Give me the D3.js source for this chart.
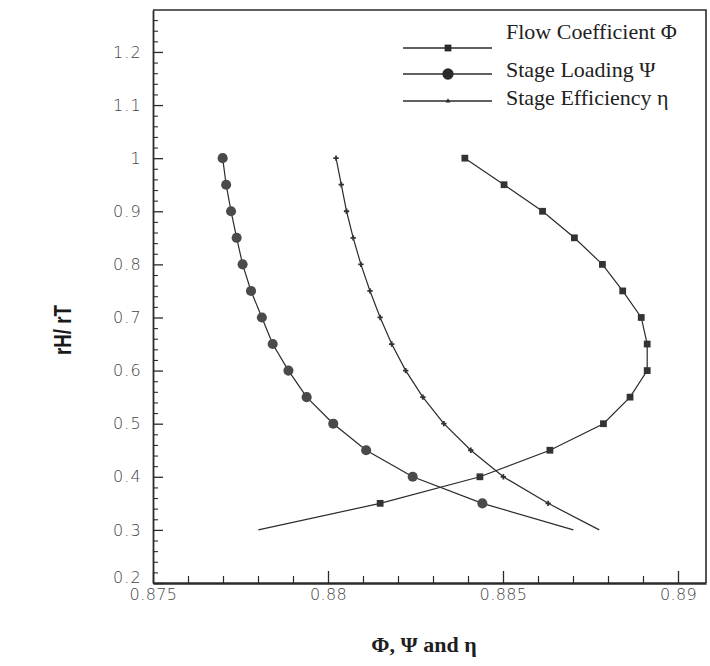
<!DOCTYPE html>
<html>
<head>
<meta charset="utf-8">
<script src="https://cdn.jsdelivr.net/npm/d3@7"></script>
<style>
  html, body { margin: 0; padding: 0; background: #ffffff; }
  svg { display: block; }
</style>
</head>
<body>
<svg id="chart" width="710" height="666"></svg>
<script>
// Hub-to-tip radius ratio at each spanwise station
const rHrT = [1.0, 0.95, 0.9, 0.85, 0.8, 0.75, 0.7, 0.65, 0.6, 0.55, 0.5, 0.45, 0.4, 0.35, 0.3];

// Flow coefficient Φ
const flowCoefficient = [0.88391, 0.88503, 0.88613, 0.88704, 0.88784, 0.88842, 0.88895, 0.88912,
                         0.88912, 0.88863, 0.88787, 0.88634, 0.88434, 0.88149, 0.87801];
// Stage loading Ψ
const stageLoading = [0.87699, 0.87709, 0.87723, 0.87739, 0.87756, 0.87780, 0.87811, 0.87842,
                      0.87887, 0.87939, 0.88015, 0.88109, 0.88242, 0.88441, 0.88701];
// Stage efficiency η
const stageEfficiency = [0.88023, 0.88038, 0.88053, 0.88072, 0.88094, 0.88120, 0.88149, 0.88182,
                         0.88222, 0.88271, 0.88331, 0.88408, 0.88501, 0.88629, 0.88775];

const seriesNames = ["Flow Coefficient \u03A6", "Stage Loading \u03A8", "Stage Efficiency \u03B7"];
const xTickLabels = ["0.875", "0.88", "0.885", "0.89"];
const yTickLabels = ["0.2", "0.3", "0.4", "0.5", "0.6", "0.7", "0.8", "0.9", "1", "1.1", "1.2"];
const xTitle = "\u03A6, \u03A8 and \u03B7";
const yTitle = "rH/ rT";

const svg = d3.select("#chart");
const plotLeft = 153, plotRight = 706, plotTop = 10, plotBottom = 583;

const x = d3.scaleLinear().domain([0.875, 0.8908]).range([plotLeft, plotRight]);
const y = d3.scaleLinear().domain([0.2, 1.279]).range([plotBottom, plotTop]);

const ink = "#2b2b2b";
const labelInk = "#444";

// Frame (top and right edges)
svg.append("path")
  .attr("d", `M${plotLeft},${plotTop}H${plotRight}V${plotBottom}`)
  .attr("fill", "none").attr("stroke", ink).attr("stroke-width", 1.6);

// X axis: major ticks every 0.005, minor every 0.001, drawn inward
const xMajor = xTickLabels.map(Number);
const xMinor = d3.range(0, 16).map(i => +(0.875 + i * 0.001).toFixed(4))
  .filter(v => v <= x.domain()[1] && !xMajor.some(m => Math.abs(m - v) < 1e-7));

const gx = svg.append("g").attr("transform", `translate(0,${plotBottom})`);
gx.call(d3.axisBottom(x).tickValues(xMajor).tickSizeInner(-12).tickSizeOuter(0)
  .tickFormat((d, i) => xTickLabels[i]));
gx.select(".domain").attr("stroke", ink).attr("stroke-width", 2.4);
gx.selectAll(".tick line").attr("stroke", ink).attr("stroke-width", 1.3);
gx.selectAll(".tick text")
  .attr("y", 6).attr("dy", "0.71em")
  .attr("fill", labelInk)
  .style("font-family", "'DejaVu Sans', sans-serif")
  .style("font-size", "16px")
  .style("font-weight", "300")
  .style("letter-spacing", "0.4px");
svg.append("g").attr("transform", `translate(0,${plotBottom})`)
  .call(d3.axisBottom(x).tickValues(xMinor).tickSizeInner(-7).tickSizeOuter(0).tickFormat(""))
  .call(g => g.select(".domain").remove())
  .selectAll(".tick line").attr("stroke", ink).attr("stroke-width", 1.2);

// Y axis: major ticks every 0.1, minor every 0.02
const yMajor = yTickLabels.map(Number);
const yMinor = d3.range(0, 54).map(i => +(0.2 + i * 0.02).toFixed(3))
  .filter(v => v <= y.domain()[1] && !yMajor.some(m => Math.abs(m - v) < 1e-7));

const gy = svg.append("g").attr("transform", `translate(${plotLeft},0)`);
gy.call(d3.axisLeft(y).tickValues(yMajor).tickSizeInner(-10).tickSizeOuter(0)
  .tickFormat((d, i) => yTickLabels[i]));
gy.select(".domain").attr("stroke", ink).attr("stroke-width", 1.8);
gy.selectAll(".tick line").attr("stroke", ink).attr("stroke-width", 1.3);
gy.selectAll(".tick text")
  .attr("x", -11)
  .attr("fill", labelInk)
  .style("font-family", "'DejaVu Sans', sans-serif")
  .style("font-size", "16px")
  .style("font-weight", "300")
  .style("letter-spacing", "1.2px");
// lowest label sits just above the x-axis labels
gy.selectAll(".tick text").filter(d => d === 0.2).attr("dy", "-0.05em");
svg.append("g").attr("transform", `translate(${plotLeft},0)`)
  .call(d3.axisLeft(y).tickValues(yMinor).tickSizeInner(-5).tickSizeOuter(0).tickFormat(""))
  .call(g => g.select(".domain").remove())
  .selectAll(".tick line").attr("stroke", ink).attr("stroke-width", 1.1);

// Axis titles
svg.append("text")
  .attr("x", 424).attr("y", 652)
  .attr("text-anchor", "middle")
  .attr("fill", "#1e1e1e")
  .style("font-family", "'Liberation Serif', 'Times New Roman', serif")
  .style("font-weight", "bold")
  .style("font-size", "22px")
  .text(xTitle);

// condensed bold title along the y axis
svg.append("text")
  .attr("transform", "translate(71,330) rotate(-90) scale(0.78,1)")
  .attr("text-anchor", "middle")
  .attr("fill", "#1a1a1a")
  .style("font-family", "'Liberation Sans', Arial, sans-serif")
  .style("font-weight", "bold")
  .style("font-size", "24px")
  .text(yTitle);

// Curves
const series = [
  { name: seriesNames[0], values: flowCoefficient, symbol: d3.symbolSquare, size: 46, fill: "#333" },
  { name: seriesNames[1], values: stageLoading, symbol: d3.symbolCircle, size: 80, fill: "#4a4a4a" },
  { name: seriesNames[2], values: stageEfficiency, symbol: d3.symbolCross, size: 16, fill: "#333" }
];

const line = d3.line()
  .x(d => x(d[0]))
  .y(d => y(d[1]));

series.forEach(s => {
  const pts = s.values.map((v, i) => [v, rHrT[i]]);
  svg.append("path")
    .datum(pts)
    .attr("d", line)
    .attr("fill", "none")
    .attr("stroke", ink)
    .attr("stroke-width", 1.2);
  // symbols on every station except the hub end of the line
  svg.append("g").selectAll("path")
    .data(pts.filter(p => p[1] > 0.32))
    .join("path")
    .attr("transform", d => `translate(${x(d[0])},${y(d[1])})`)
    .attr("d", d3.symbol(s.symbol, s.size))
    .attr("fill", s.fill);
});

// Legend
const legendRows = [
  { lineY: 48, textY: 39 },
  { lineY: 74, textY: 77 },
  { lineY: 101, textY: 105 }
];
const legend = svg.append("g");
series.forEach((s, i) => {
  const r = legendRows[i];
  legend.append("line")
    .attr("x1", 403).attr("x2", 492)
    .attr("y1", r.lineY).attr("y2", r.lineY)
    .attr("stroke", ink).attr("stroke-width", 1.4);
  legend.append("path")
    .attr("transform", `translate(448,${r.lineY})`)
    .attr("d", d3.symbol(i === 2 ? d3.symbolTriangle : s.symbol, i === 2 ? 10 : (i === 1 ? 100 : 46)))
    .attr("fill", "#2a2a2a");
  legend.append("text")
    .attr("x", 506).attr("y", r.textY)
    .attr("fill", "#222")
    .style("font-family", "'Liberation Serif', 'Times New Roman', serif")
    .style("font-size", "22px")
    .text(s.name);
});
</script>
</body>
</html>
